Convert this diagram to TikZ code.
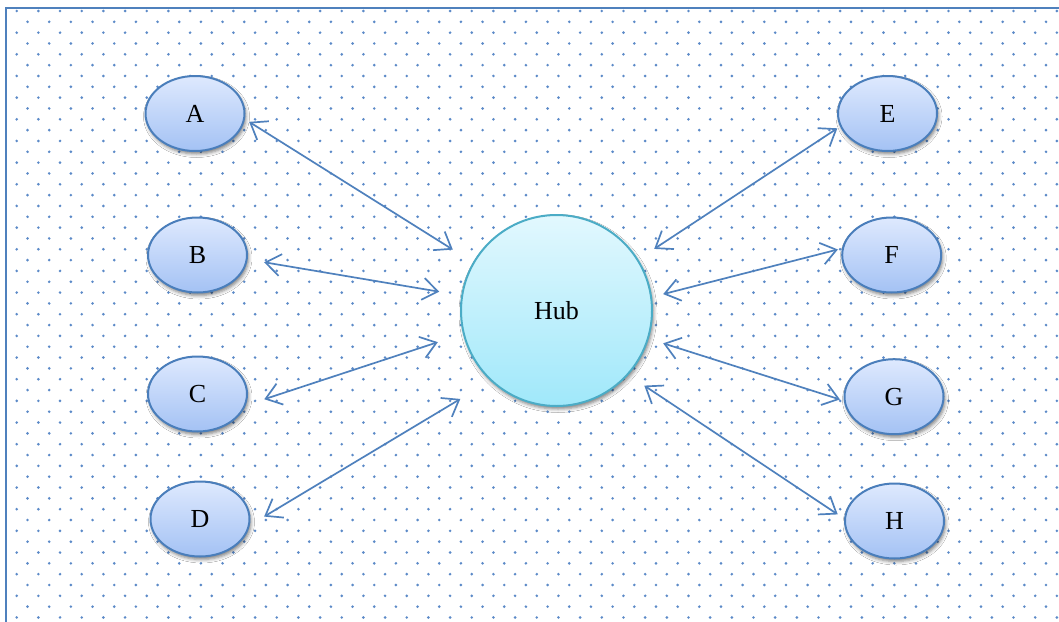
\documentclass[tikz,border=0pt]{standalone}
\usepackage{fontspec}
\setmainfont{Liberation Serif}
\usetikzlibrary{arrows.meta,shapes.geometric,shadows.blur}

\definecolor{linkblue}{RGB}{79,129,189}
\definecolor{rimblue}{RGB}{74,126,187}
\definecolor{leaftop}{RGB}{222,233,254}
\definecolor{leafbot}{RGB}{164,194,244}
\definecolor{hubtop}{RGB}{226,248,254}
\definecolor{hubbot}{RGB}{160,232,250}
\definecolor{hubrim}{RGB}{75,172,198}
\definecolor{dotblue}{RGB}{92,138,200}

\tikzset{
  softshadow/.style={blur shadow={shadow xshift=1.5pt, shadow yshift=-3pt,
      shadow blur radius=3.5pt, shadow opacity=50}},
  leaf/.style={ellipse, draw=rimblue, line width=2pt, minimum width=99pt,
      minimum height=75pt, inner sep=0pt, outer sep=0pt,
      top color=leaftop, bottom color=leafbot,
      font=\fontsize{26}{30}\selectfont, softshadow},
  hubnode/.style={circle, draw=hubrim, line width=2pt, minimum size=191pt,
      inner sep=0pt, outer sep=0pt, top color=hubtop, bottom color=hubbot,
      font=\fontsize{26}{30}\selectfont, softshadow},
  barb/.tip={Straight Barb[length=15pt,width=22pt]},
  link/.style={linkblue, line width=1.7pt, barb-barb},
  frameline/.style={draw=linkblue, line width=2pt}
}

\begin{document}
\begin{tikzpicture}[x=1pt,y=-1pt]
  % page and dotted backdrop
  \useasboundingbox (0,0) rectangle (1059,621);
  \fill[white] (0,0) rectangle (1059,621);
  \foreach \j in {0,...,56}{
    \pgfmathsetmacro\off{mod(\j,2)*10.83}
    \foreach \i in {0,...,48}{
      \fill[dotblue] (16.7+\i*21.67+\off, 11+\j*10.83) circle (1.45pt);
    }
  }
  \draw[frameline] (6,8) rectangle (1080,650);

  % central hub
  \node[hubnode] (hub) at (556.5,310.5) {Hub};

  % left-hand nodes
  \node[leaf] (A) at (195,113.5) {A};
  \node[leaf] (B) at (197.5,255) {B};
  \node[leaf] (C) at (197.5,394) {C};
  \node[leaf] (D) at (200,519) {D};

  % right-hand nodes
  \node[leaf] (E) at (887.5,113.5) {E};
  \node[leaf] (F) at (891.7,255) {F};
  \node[leaf] (G) at (894,396.7) {G};
  \node[leaf] (H) at (894.5,521) {H};

  % two-way links to the hub
  \draw[link, shorten <=6pt,    shorten >=24.8pt] (A.-6.6)  -- (hub.150);
  \draw[link, shorten <=17.7pt, shorten >=23.3pt] (B.-5.7)  -- (hub.171.9);
  \draw[link, shorten <=20.8pt, shorten >=27.4pt] (C.-14.7) -- (hub.194.3);
  \draw[link, shorten <=18pt,   shorten >=36.2pt] (D.-8.3)  -- (hub.227.3);
  \draw[link, shorten <=4.2pt,  shorten >=20pt]   (E.195.9) -- (hub.32);
  \draw[link, shorten <=5.3pt,  shorten >=12.5pt] (F.172.8) -- (hub.8.6);
  \draw[link, shorten <=5.1pt,  shorten >=16.1pt] (G.185.6) -- (hub.-17.2);
  \draw[link, shorten <=8.8pt,  shorten >=20.2pt] (H.178.7) -- (hub.-42.9);
\end{tikzpicture}
\end{document}
